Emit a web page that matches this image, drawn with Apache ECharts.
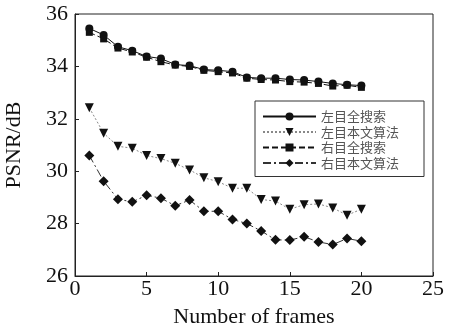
<!DOCTYPE html>
<html><head><meta charset="utf-8">
<script src="https://cdn.jsdelivr.net/npm/echarts@6/dist/echarts.min.js"></script>
<style>html,body{margin:0;padding:0;background:#fff}#c{width:449px;height:329px}</style>
</head><body><div id="c"></div>
<script>
const frames = [1,2,3,4,5,6,7,8,9,10,11,12,13,14,15,16,17,18,19,20];
const seriesNames = ['左目全搜索','左目本文算法','右目全搜索','右目本文算法'];
const leftFull = [35.45,35.2,34.75,34.6,34.38,34.3,34.07,34.03,33.88,33.85,33.8,33.58,33.55,33.55,33.5,33.48,33.42,33.35,33.3,33.27];
const leftOurs = [32.42,31.45,30.95,30.88,30.6,30.48,30.3,30.05,29.75,29.6,29.35,29.35,28.92,28.86,28.55,28.72,28.75,28.6,28.32,28.55];
const rightFull = [35.3,35.05,34.7,34.55,34.35,34.18,34.05,34.0,33.85,33.8,33.75,33.55,33.5,33.48,33.42,33.4,33.35,33.25,33.28,33.2];
const rightOurs = [30.6,29.62,28.93,28.83,29.08,28.97,28.68,28.9,28.47,28.47,28.16,28.0,27.72,27.38,27.37,27.5,27.3,27.2,27.43,27.33];
const xTicks = {min:0,max:25,interval:5};
const yTicks = {min:26,max:36,interval:2};

const pair = arr => frames.map((f,i)=>[f,arr[i]]);
const serif = '"Liberation Serif","Times New Roman",serif';
const chart = echarts.init(document.getElementById('c'));
chart.setOption({
  animation:false,
  backgroundColor:'#fff',
  grid:{left:75,right:16,top:14,bottom:53,show:true,borderColor:'#222',borderWidth:1,backgroundColor:'transparent',
    containLabel:false,outerBoundsMode:'none'},
  legend:{
    orient:'vertical',left:255,top:101,
    padding:[8,25,6,7],itemGap:0.5,itemWidth:53,itemHeight:10,
    borderColor:'#333',borderWidth:1,backgroundColor:'#fff',
    textStyle:{fontFamily:'"Noto Sans CJK SC",sans-serif',fontSize:13,color:'#555',lineHeight:15,padding:[0,0,0,0]},
    data:seriesNames
  },
  xAxis:{type:'value',min:xTicks.min,max:xTicks.max,interval:xTicks.interval,
    name:'Number of frames',nameLocation:'middle',nameGap:30,
    nameTextStyle:{fontFamily:serif,fontSize:22,color:'#111'},
    axisLine:{show:true,lineStyle:{color:'#222',width:1}},
    axisTick:{show:true,inside:true,length:4,lineStyle:{color:'#222'}},
    axisLabel:{fontFamily:serif,fontSize:22,color:'#111',margin:2},
    splitLine:{show:false}},
  yAxis:{type:'value',min:yTicks.min,max:yTicks.max,interval:yTicks.interval,
    name:'PSNR/dB',nameLocation:'middle',nameGap:50,
    nameTextStyle:{fontFamily:serif,fontSize:22,color:'#111'},
    axisLine:{show:true,lineStyle:{color:'#222',width:1}},
    axisTick:{show:true,inside:true,length:4,lineStyle:{color:'#222'}},
    axisLabel:{fontFamily:serif,fontSize:22,color:'#111',margin:7},
    splitLine:{show:false}},
  series:[
    {name:seriesNames[0],type:'line',data:pair(leftFull),symbol:'circle',symbolSize:8,
      lineStyle:{color:'#111',width:1,type:'solid'},itemStyle:{color:'#111'}},
    {name:seriesNames[1],type:'line',data:pair(leftOurs),symbol:'triangle',symbolRotate:180,symbolSize:9,
      lineStyle:{color:'#888',width:1,type:[2,2]},itemStyle:{color:'#111'}},
    {name:seriesNames[2],type:'line',data:pair(rightFull),symbol:'rect',symbolSize:7,
      lineStyle:{color:'#111',width:1,type:[6,3]},itemStyle:{color:'#111'}},
    {name:seriesNames[3],type:'line',data:pair(rightOurs),symbol:'diamond',symbolSize:10,
      lineStyle:{color:'#333',width:1,type:[8,3,2,3]},itemStyle:{color:'#111'}}
  ]
});
</script></body></html>
